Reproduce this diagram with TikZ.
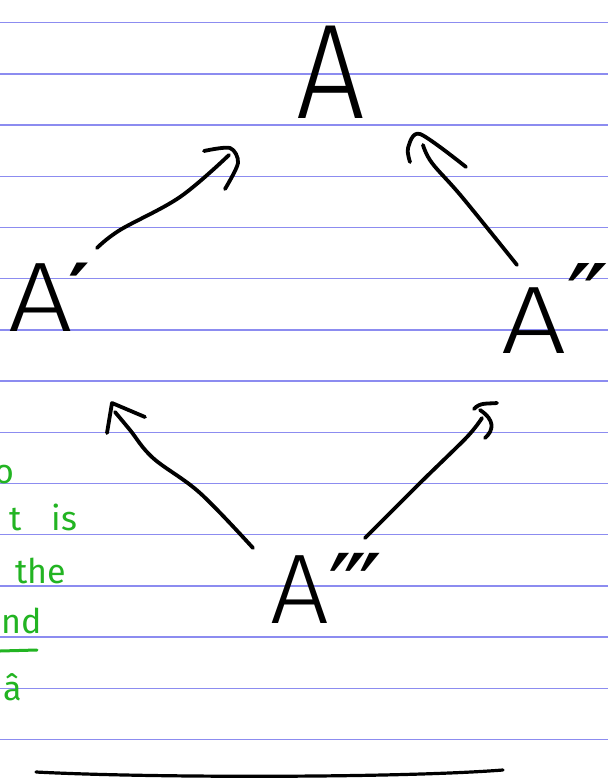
\documentclass[tikz,border=0pt]{standalone}
\usepackage{fontspec}
\newfontfamily\handfont{Fira Sans Light}
\newfontfamily\primefont{DejaVu Sans}
\newfontfamily\greenfont{Fira Sans}
\definecolor{ruleblue}{HTML}{8C8CF0}
\definecolor{greenink}{HTML}{22B422}
\tikzset{
  ruleline/.style={draw=ruleblue, line width=1.4pt},
  pen/.style={draw=black, line width=3.8pt, line cap=round, line join=round},
  gpen/.style={draw=greenink, line width=3pt, line cap=round},
  letter/.style={inner sep=0pt, outer sep=0pt, text=black},
  gtext/.style={inner sep=0pt, outer sep=0pt, text=greenink, font=\greenfont\fontsize{34}{34}\selectfont},
}
\begin{document}
\begin{tikzpicture}[x=1pt,y=-1pt]
\useasboundingbox (0,0) rectangle (608,779);
\clip (0,0) rectangle (608,779);
\fill[white] (0,0) rectangle (608,779);
% ruled lines
\foreach \k in {0,...,14} \draw[ruleline] (0,{22.7+51.2*\k}) -- (608,{22.7+51.2*\k});

% letters
\node[letter, anchor=base west, xscale=0.9, font=\handfont\fontsize{135}{135}\selectfont] (top) at (296,118) {A};
\node[letter, anchor=base west, xscale=1.15, font=\handfont\fontsize{99}{99}\selectfont] (left) at (9,331) {A{\primefont\bfseries\kern-4pt\fontsize{72}{72}\selectfont\raisebox{16pt}{′}}};
\node[letter, anchor=base west, xscale=1.2, font=\handfont\fontsize{96}{96}\selectfont] (right) at (501,353) {A{\primefont\raisebox{20pt}{″}}};
\node[letter, anchor=base west, xscale=1.05, font=\handfont\fontsize{99}{99}\selectfont] (bottom) at (270,623) {A{\primefont\raisebox{-2pt}{‴}}};

% arrow A' -> A
\coordinate (a1s) at (97,248);
\coordinate (a1e) at (229,155);
\draw[pen] plot[smooth, tension=0.6] coordinates {(a1s) (120,230) (180,197) (a1e)};
\draw[pen] plot[smooth] coordinates {(204,151) (230,148) (238,163) (225,189)};

% arrow A'' -> A
\coordinate (a2s) at (517,265);
\coordinate (a2e) at (423,145);
\draw[pen] plot[smooth, tension=0.6] coordinates {(a2s) (462,197) (432,163) (a2e)};
\draw[pen] plot[smooth] coordinates {(410,162) (408,148) (420,134) (466,167)};

% arrow A''' -> A'
\coordinate (a3s) at (253,548);
\coordinate (a3e) at (115,412);
\draw[pen] plot[smooth, tension=0.6] coordinates {(a3s) (200,493) (153,458) (130,430) (a3e)};
\draw[pen] (107,433) -- (110,415) -- (112,403) -- (145,417);

% arrow A''' -> A''
\coordinate (a4s) at (365,538);
\coordinate (a4e) at (482,418);
\draw[pen] plot[smooth, tension=0.5] coordinates {(a4s) (420,483) (467,437) (a4e)};
\draw[pen] (474,409) .. controls (480,402) and (488,404) .. (497,403);
\draw[pen] (480,410) .. controls (495,420) and (494,430) .. (485,438);

% bottom line
\coordinate (bl) at (36,772);
\coordinate (br) at (503,770);
\draw[draw=black, line width=3.2pt, line cap=round] (bl) .. controls (150,778) and (400,778) .. (br);

% green margin notes
\node[gtext, anchor=base east] (g1) at (14,483) {o};
\node[gtext, anchor=base east] (g2) at (77,530) {t\hspace{30pt}is};
\node[gtext, anchor=base west] (g3) at (15,583) {the};
\node[gtext, anchor=base east] (g4) at (42,633) {nd};
\coordinate (u1) at (0,651);
\coordinate (u2) at (37,650);
\draw[gpen] (u1) -- (u2);
\node[gtext, anchor=base east] (g5) at (22,700) {â};
\end{tikzpicture}
\end{document}
